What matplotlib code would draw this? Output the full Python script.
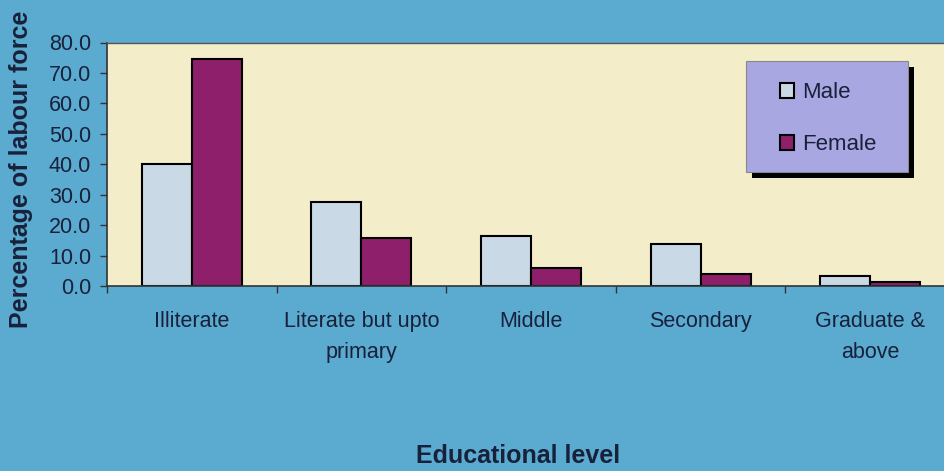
import numpy as np
import matplotlib
matplotlib.use('Agg')
import matplotlib.pyplot as plt
from matplotlib.patches import Rectangle

# Data
categories = ['Illiterate', 'Literate but upto\nprimary', 'Middle', 'Secondary', 'Graduate &\nabove']
male = [40.0, 27.5, 16.3, 13.7, 3.2]
female = [74.5, 15.8, 5.9, 4.0, 1.3]
y_ticks = [0, 10, 20, 30, 40, 50, 60, 70, 80]

bg = '#5BAAD0'
plot_bg = '#F3EDC9'
male_col = '#C9D9E5'
female_col = '#8E1F6B'
legend_col = '#A9A7E2'
text_col = '#18213A'

plt.rcParams['font.family'] = ['Liberation Sans', 'DejaVu Sans']

fig = plt.figure(figsize=(9.45, 4.71), dpi=100, facecolor=bg)
ax = fig.add_axes([107 / 945, 1 - 286 / 471, 848 / 945, 243.5 / 471])
ax.set_facecolor(plot_bg)

x = np.arange(len(categories))
w = 0.295
bm = ax.bar(x - w / 2, male, width=w, color=male_col, edgecolor='black', linewidth=1.5, label='Male')
bf = ax.bar(x + w / 2, female, width=w, color=female_col, edgecolor='black', linewidth=1.5, label='Female')

ax.set_xlim(-0.5, len(categories) - 0.5)
ax.set_ylim(0, 80)
ax.set_yticks(y_ticks)
ax.set_yticklabels([f'{v:.1f}' for v in y_ticks])
ax.tick_params(axis='y', direction='out', length=5, width=1, pad=6.5,
               labelsize=15.5, labelcolor=text_col, color='#333333')

# category labels centred, ticks at category boundaries
ax.set_xticks(x)
ax.set_xticklabels(categories, fontsize=15.5, color=text_col, linespacing=1.65)
ax.tick_params(axis='x', which='major', length=0, pad=18)
ax.set_xticks(np.arange(len(categories) + 1) - 0.5, minor=True)
ax.tick_params(axis='x', which='minor', direction='out', length=5, width=1, color='#333333')

for s in ['left', 'bottom']:
    ax.spines[s].set_color('#333333')
    ax.spines[s].set_linewidth(1.2)
ax.spines['top'].set_color('#555555')
ax.spines['top'].set_linewidth(1)
ax.spines['right'].set_visible(False)

fig.text(21 / 945, 1 - 169 / 471, 'Percentage of labour force', rotation=90,
         ha='center', va='center', fontsize=18, fontweight='bold', color=text_col)
fig.text(518 / 945, 1 - 456 / 471, 'Educational level',
         ha='center', va='center', fontsize=18, fontweight='bold', color=text_col)

# legend box with black drop shadow
fig.add_artist(Rectangle((752 / 945, 1 - 178 / 471), 162 / 945, 111 / 471,
                         transform=fig.transFigure, facecolor='black', edgecolor='none'))
fig.add_artist(Rectangle((746 / 945, 1 - 172 / 471), 162 / 945, 111 / 471,
                         transform=fig.transFigure, facecolor=legend_col, edgecolor='#888888',
                         linewidth=0.8))
fig.legend(handles=[bm, bf], labels=['Male', 'Female'], loc='upper left',
           bbox_to_anchor=(760 / 945, 1 - 62 / 471), frameon=False,
           fontsize=16, labelcolor=text_col, handlelength=0.65, handleheight=0.65,
           handletextpad=0.35, labelspacing=1.4)

fig.savefig('out.png', dpi=100, facecolor=bg)
